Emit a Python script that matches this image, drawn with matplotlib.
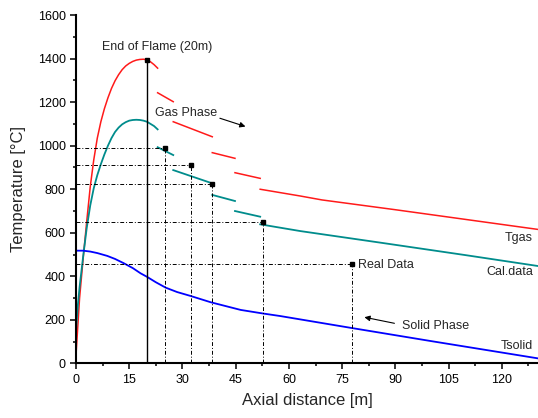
import matplotlib
matplotlib.use("Agg")
import matplotlib.pyplot as plt
from matplotlib.ticker import MultipleLocator

plt.rcParams["font.family"] = ["Liberation Sans", "DejaVu Sans"]

# Gas temperature (Tgas), drawn as separate pieces
tgas_x = [
    [0, 0.5, 1, 2, 3, 4, 5, 6, 7, 8, 9, 10, 11, 12, 13, 14, 15, 16, 17, 18, 19, 20, 21, 22, 23],
    [23.0, 27.4],
    [27.4, 38.4],
    [38.4, 44.8],
    [44.8, 51.9],
    [51.9, 63.2, 69.3, 90, 110, 130],
]
tgas_y = [
    [40, 170, 300, 480, 650, 810, 935, 1035, 1110, 1170, 1220, 1263, 1298, 1326, 1349, 1366,
     1378, 1387, 1393, 1396, 1397, 1394, 1385, 1372, 1356],
    [1243, 1202],
    [1110, 1041],
    [968, 942],
    [876, 850],
    [800, 769, 751, 706, 661, 616],
]

# Calculated data
cal_x = [
    [0, 0.5, 1, 2, 3, 4, 5, 6, 7, 8, 9, 10, 11, 12, 13, 14, 15, 16, 17, 18, 19, 20, 21, 22, 23],
    [23.0, 27.4],
    [27.4, 38.4],
    [38.4, 44.8],
    [44.8, 51.9],
    [51.9, 63.2, 85.7, 110, 130],
]
cal_y = [
    [150, 265, 350, 490, 620, 725, 805, 865, 915, 960, 1000, 1035, 1063, 1083, 1098, 1108,
     1115, 1118, 1119, 1118, 1115, 1110, 1100, 1090, 1075],
    [993, 957],
    [888, 827],
    [774, 746],
    [700, 674],
    [639, 608, 555, 497, 448],
]

# Solid temperature (Tsolid)
tsolid_x = [0, 2, 4, 6, 8.8, 11, 13.5, 16, 18.2, 20, 22.5, 25.3, 28.5, 32.3, 38, 46.4, 52.5,
            57.5, 77.3, 100, 130]
tsolid_y = [518, 518, 514, 507, 494, 480, 460, 438, 414, 398, 373, 348, 328, 310, 281, 246, 230,
            218, 164, 103, 24]

# Measured points
real_x = [20, 25.1, 32.5, 38.4, 52.6, 77.9]
real_y = [1393, 988, 911, 823, 650, 457]

fig = plt.figure(figsize=(5.38, 4.18), dpi=100)
ax = fig.add_axes([0.1413, 0.1304, 0.8587, 0.8337])

for xs, ys in zip(tgas_x, tgas_y):
    ax.plot(xs, ys, color="#ff1a1a", lw=1.1)
for xs, ys in zip(cal_x, cal_y):
    ax.plot(xs, ys, color="#008c8c", lw=1.3)
ax.plot(tsolid_x, tsolid_y, color="#0000ff", lw=1.3)

# guide lines to the measured points
dash = (0, (4, 2, 1, 2))
for i, (x, y) in enumerate(zip(real_x, real_y)):
    if i == 0:
        ax.plot([x, x], [0, y], color="black", lw=1.0)
        continue
    ax.plot([0, x], [y, y], color="black", lw=0.7, linestyle=dash)
    ax.plot([x, x], [0, y], color="black", lw=0.7, linestyle=dash)
ax.plot(real_x, real_y, "s", color="black", ms=3.5, zorder=5)

txt = "#262626"
ax.text(22.8, 1453, "End of Flame (20m)", fontsize=9, color=txt, ha="center", va="center")
ax.text(31, 1150, "Gas Phase", fontsize=9, color=txt, ha="center", va="center")
ax.annotate("", xy=(48.5, 1084), xytext=(39.8, 1130),
            arrowprops=dict(arrowstyle="-|>", color="black", lw=0.8, mutation_scale=8))
ax.text(79.6, 452, "Real Data", fontsize=9, color=txt, ha="left", va="center")
ax.text(92.0, 172, "Solid Phase", fontsize=9, color=txt, ha="left", va="center")
ax.annotate("", xy=(80.5, 215), xytext=(90.5, 182),
            arrowprops=dict(arrowstyle="-|>", color="black", lw=0.8, mutation_scale=8))
ax.text(128.8, 576, "Tgas", fontsize=9, color=txt, ha="right", va="center")
ax.text(128.8, 420, "Cal.data", fontsize=9, color=txt, ha="right", va="center")
ax.text(128.8, 80, "Tsolid", fontsize=9, color=txt, ha="right", va="center")

ax.set_xlim(0, 130.2)
ax.set_ylim(0, 1600)
ax.xaxis.set_major_locator(MultipleLocator(15))
ax.xaxis.set_minor_locator(MultipleLocator(7.5))
ax.yaxis.set_major_locator(MultipleLocator(200))
ax.yaxis.set_minor_locator(MultipleLocator(100))
ax.tick_params(which="major", direction="out", length=4, width=1.1, labelsize=9, colors="black")
ax.tick_params(which="minor", direction="out", length=2.5, width=1.1)
for s in ["top", "right"]:
    ax.spines[s].set_visible(False)
for s in ["left", "bottom"]:
    ax.spines[s].set_linewidth(1.5)

ax.set_xlabel("Axial distance [m]", fontsize=12, color=txt)
ax.set_ylabel("Temperature [°C]", fontsize=12, color=txt)
ax.xaxis.set_label_coords(0.5, -0.085)
ax.yaxis.set_label_coords(-0.109, 0.5)

fig.savefig("out.png", dpi=100)
